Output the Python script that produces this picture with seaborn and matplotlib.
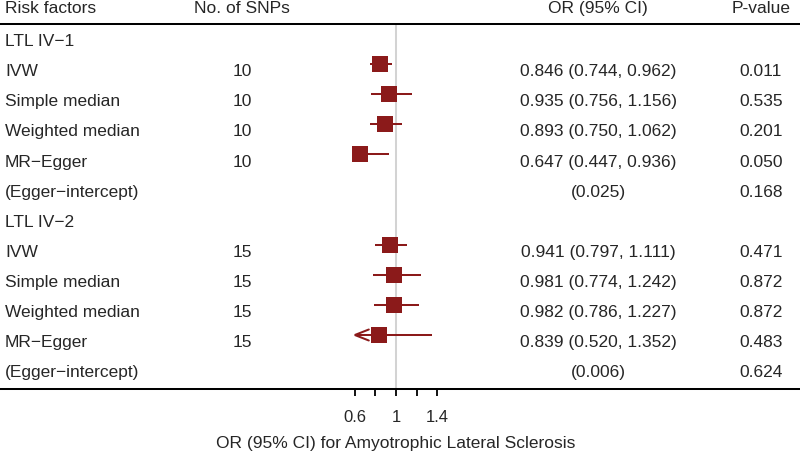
import numpy as np
import pandas as pd
import seaborn as sns
import matplotlib.pyplot as plt

# table rows, top to bottom
labels = ["LTL IV\u22121", "IVW", "Simple median", "Weighted median", "MR\u2212Egger",
          "(Egger\u2212intercept)", "LTL IV\u22122", "IVW", "Simple median",
          "Weighted median", "MR\u2212Egger", "(Egger\u2212intercept)"]
n_snps = ["", "10", "10", "10", "10", "", "", "15", "15", "15", "15", ""]
or_est = [np.nan, 0.846, 0.935, 0.893, 0.647, np.nan, np.nan, 0.941, 0.981, 0.982, 0.839, np.nan]
ci_lo = [np.nan, 0.744, 0.756, 0.750, 0.447, np.nan, np.nan, 0.797, 0.774, 0.786, 0.520, np.nan]
ci_hi = [np.nan, 0.962, 1.156, 1.062, 0.936, np.nan, np.nan, 1.111, 1.242, 1.227, 1.352, np.nan]
intercepts = ["", "", "", "", "", "(0.025)", "", "", "", "", "", "(0.006)"]
p_values = ["", "0.011", "0.535", "0.201", "0.050", "0.168", "", "0.471", "0.872", "0.872", "0.483", "0.624"]
headers = ["Risk factors", "No. of SNPs", "OR (95% CI)", "P-value"]
xticks = [0.6, 0.8, 1.0, 1.2, 1.4]
xticklabels = ["0.6", "", "1", "", "1.4"]
xlabel = "OR (95% CI) for Amyotrophic Lateral Sclerosis"

df = pd.DataFrame({"label": labels, "snps": n_snps, "or": or_est,
                   "lo": ci_lo, "hi": ci_hi, "icpt": intercepts, "p": p_values})
df["row"] = np.arange(len(df))
df["or_txt"] = [f"{o:.3f} ({l:.3f}, {h:.3f})" if not np.isnan(o) else t
                for o, l, h, t in zip(df["or"], df["lo"], df["hi"], df["icpt"])]

sns.set_style("white")
plt.rcParams["font.family"] = ["Liberation Sans", "DejaVu Sans"]

red = "#8B1A1A"
lw = 1.45
txt_sz = 12.5

# layout, in pixels of the 800x452 picture
W, H = 800, 452
ax_bottom_px = 390
row0_px, row_step = 35.0, 30.1
x_one_px, px_per_unit = 396.0, 103.0
box_px = 15.5

fig = plt.figure(figsize=(W / 100, H / 100), dpi=100)
ax = fig.add_axes([0, (H - ax_bottom_px) / H, 1, ax_bottom_px / H])
ax.set_xlim(1 - x_one_px / px_per_unit, 1 + (W - x_one_px) / px_per_unit)
ylo = (ax_bottom_px - row0_px) / row_step
yhi = -row0_px / row_step
ax.set_ylim(ylo, yhi)
head_line = (25 - row0_px) / row_step

# reference line and header rule
ax.vlines(1, head_line, ylo, color="#d3d3d3", lw=lw, zorder=0)
ax.axhline(head_line, color="black", lw=lw)

# confidence intervals, clipped to the tick range with arrows
clip_lo, clip_hi = min(xticks), max(xticks)
est = df.dropna(subset=["or"])
ax.hlines(est["row"], est["lo"].clip(clip_lo, clip_hi), est["hi"].clip(clip_lo, clip_hi),
          color=red, lw=lw, zorder=2)
dx, dy = 14 / px_per_unit, 5.5 / row_step
half_box = box_px / 2 / px_per_unit
for _, r in est[est["lo"] < clip_lo].iterrows():
    if r["or"] - half_box < clip_lo + dx:
        continue  # arrow would sit under the box
    ax.plot([clip_lo + dx, clip_lo, clip_lo + dx], [r["row"] - dy, r["row"], r["row"] + dy],
            color=red, lw=lw, zorder=2, solid_joinstyle="miter")

sns.scatterplot(data=est, x="or", y="row", marker="s", s=(box_px * 0.72) ** 2, color=red,
                linewidth=0, ax=ax, zorder=3)

# text columns
tr = ax.get_yaxis_transform()
col_x = [5 / W, 242 / W, 598 / W, 761 / W]
col_ha = ["left", "center", "center", "center"]
txt_off = 0.37
for hx, ha, h in zip(col_x, col_ha, headers):
    ax.text(hx, -0.72, h, transform=tr, ha=ha, va="baseline", fontsize=txt_sz)
for _, r in df.iterrows():
    y = r["row"] + txt_off
    for hx, ha, key in zip(col_x, col_ha, ["label", "snps", "or_txt", "p"]):
        if r[key]:
            ax.text(hx, y, r[key], transform=tr, ha=ha, va="baseline", fontsize=txt_sz)

# axis styling
for side in ["top", "left", "right"]:
    ax.spines[side].set_visible(False)
ax.spines["bottom"].set_linewidth(lw)
ax.spines["bottom"].set_color("black")
ax.set_yticks([])
ax.set_ylabel("")
ax.set_xticks(xticks)
ax.set_xticklabels(xticklabels)
ax.tick_params(axis="x", bottom=True, direction="out", length=5, width=1.3,
               pad=9.5, labelsize=12, color="black")
ax.set_xlabel(xlabel, fontsize=12.5)
ax.xaxis.set_label_coords(x_one_px / W, -(436 - ax_bottom_px) / ax_bottom_px)
ax.xaxis.label.set_va("top")

fig.savefig("out.png", dpi=100)
